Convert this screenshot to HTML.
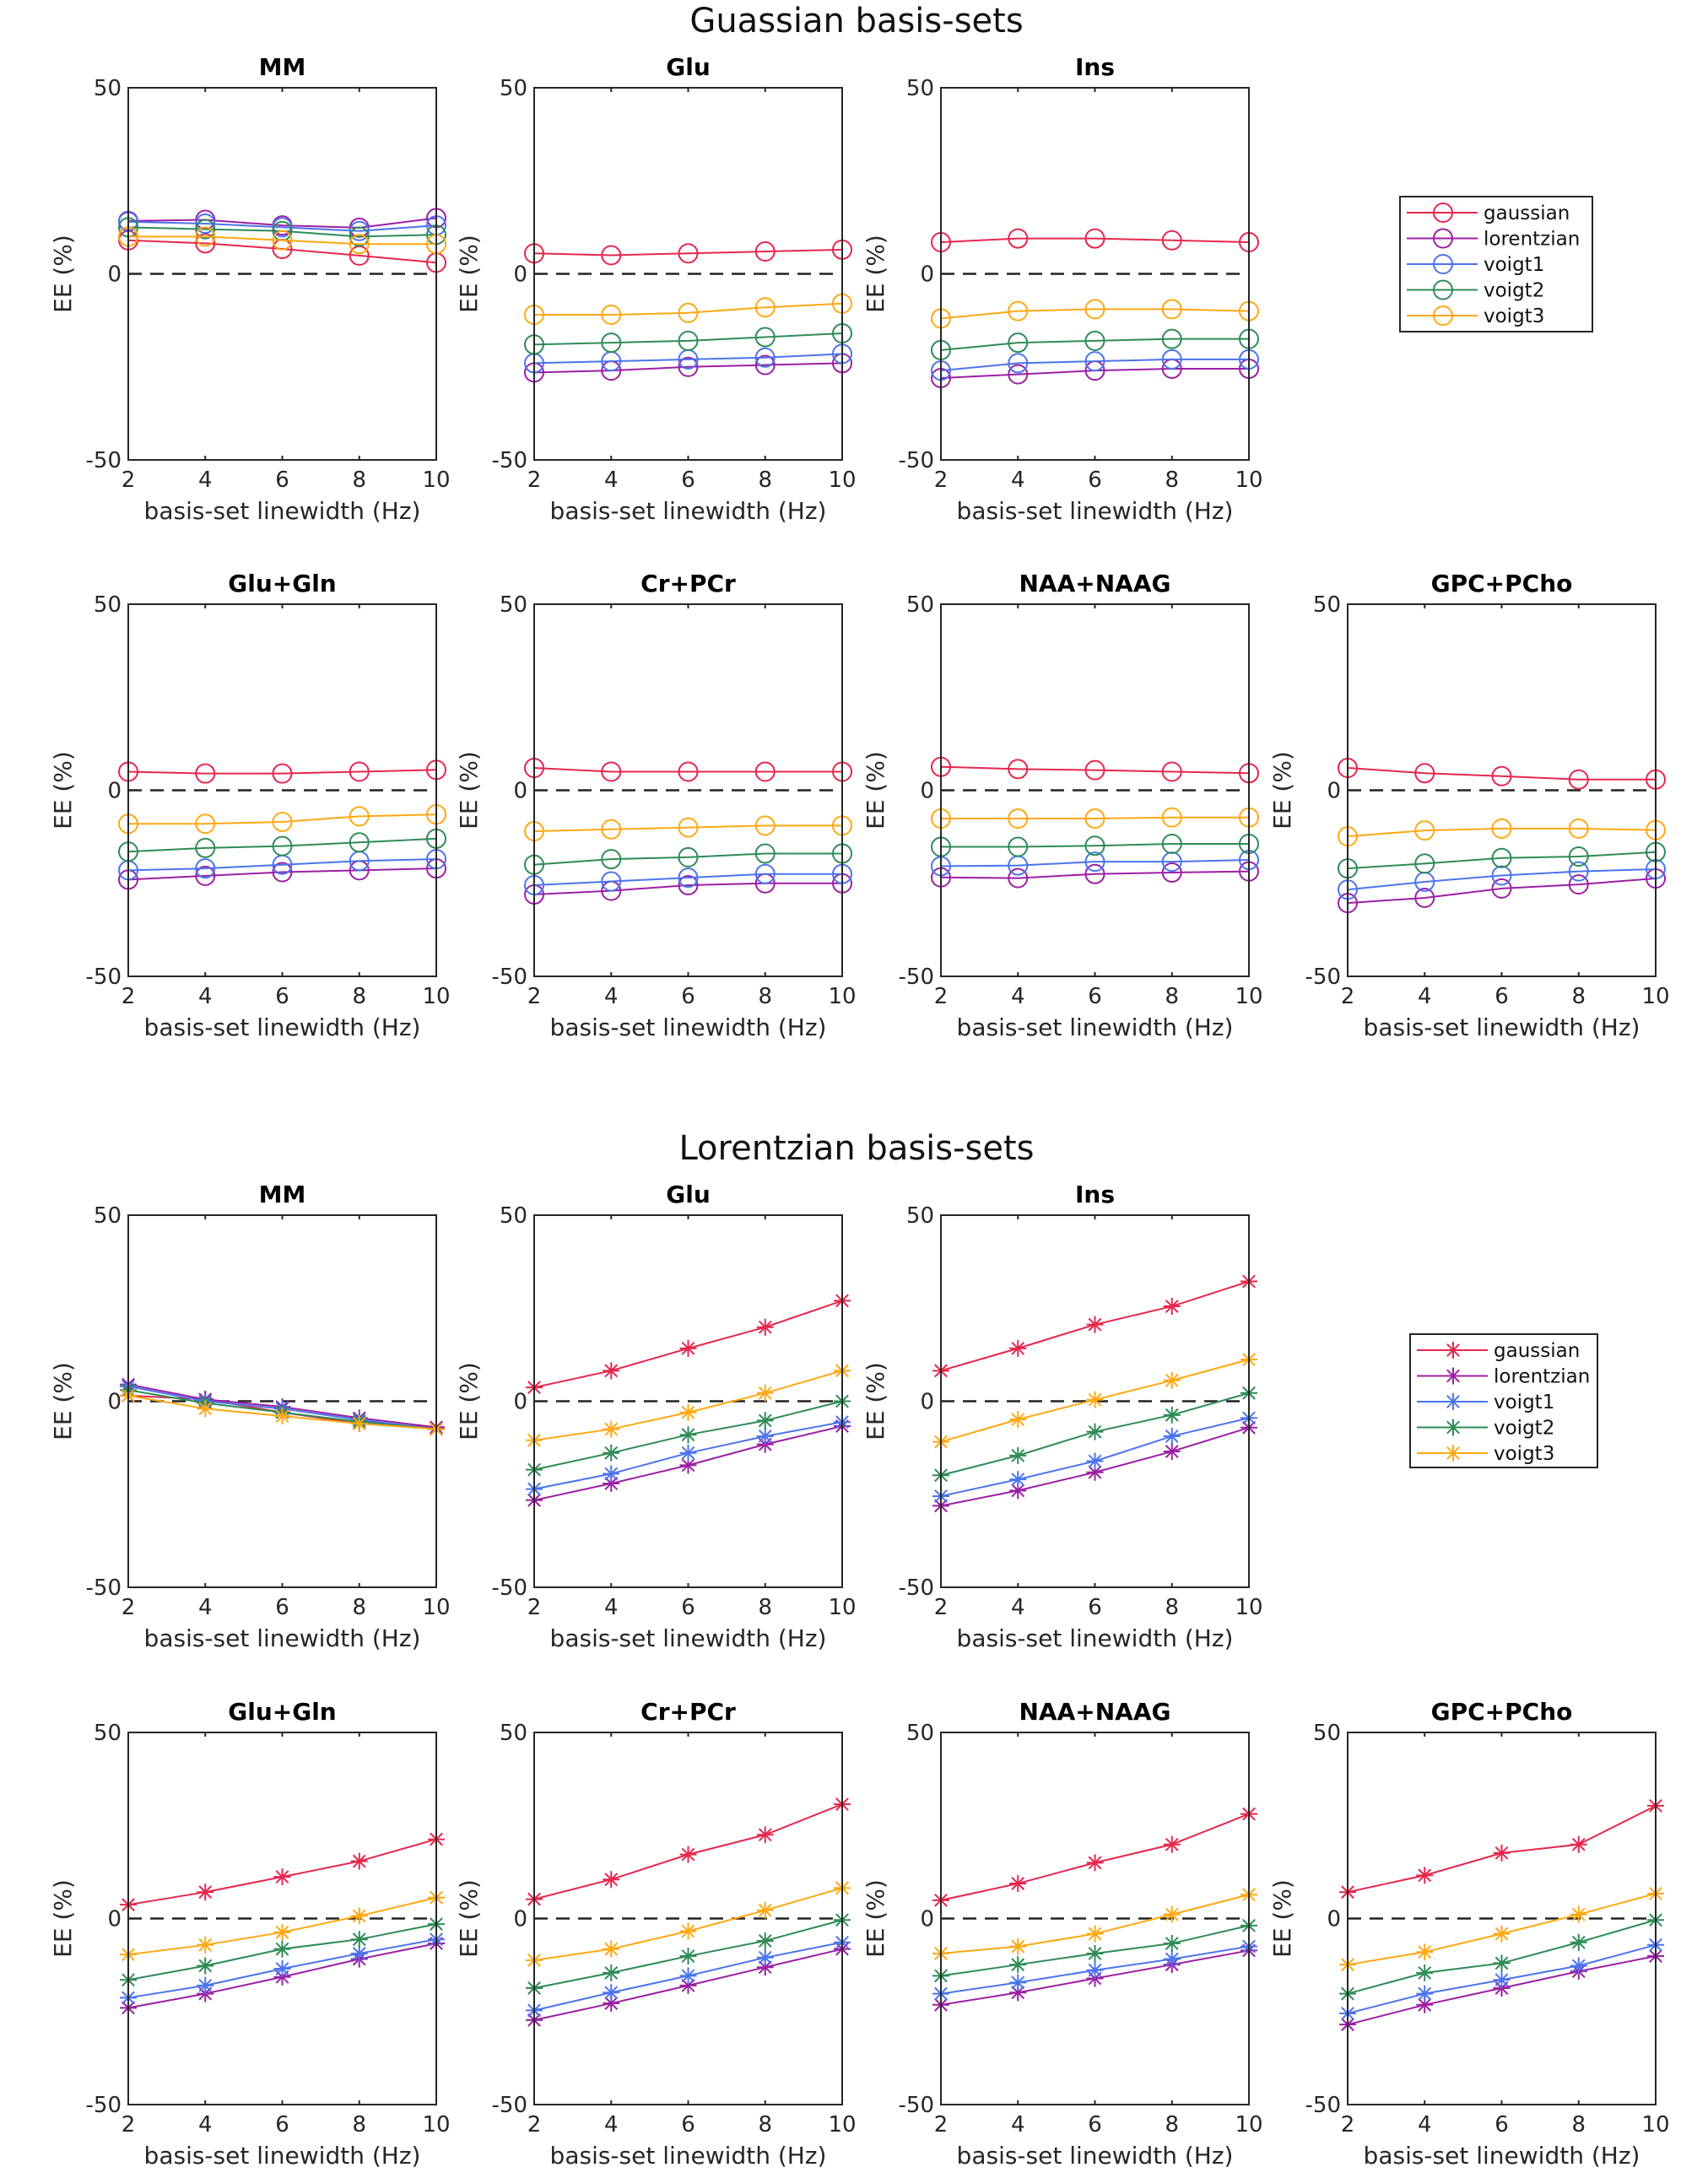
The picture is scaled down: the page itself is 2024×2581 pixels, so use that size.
<!DOCTYPE html>
<html><head><meta charset="utf-8"><style>
html,body{margin:0;padding:0;background:#fff;}
svg{display:block;font-family:"DejaVu Sans","Liberation Sans",sans-serif;}
</style></head><body>
<svg id="fig" width="2024" height="2581" viewBox="0 0 2024 2581" xmlns="http://www.w3.org/2000/svg">
<rect width="2024" height="2581" fill="#fff"/>
<text x="1015" y="38" font-size="40" text-anchor="middle" fill="#111">Guassian basis-sets</text>
<text x="1015" y="1374" font-size="40" text-anchor="middle" fill="#111">Lorentzian basis-sets</text>
</svg>
<script>
const xCats = [2,4,6,8,10];
const yTicks = [-50,0,50];
const seriesNames = ['gaussian','lorentzian','voigt1','voigt2','voigt3'];
const seriesColors = ['#e6264e','#9b1fa3','#4a74ee','#2e8b57','#ffa812'];
const panelTitles = ['MM','Glu','Ins','Glu+Gln','Cr+PCr','NAA+NAAG','GPC+PCho'];
// Gaussian basis-sets: [gaussian, lorentzian, voigt1, voigt2, voigt3]
const gMM = [[9,8.2,6.7,4.9,3],[14.2,14.5,13,12.4,15],[14,13.5,12.5,11.5,13],[12.5,12,11.5,10,10.5],[10,10,9,8,8]];
const gGlu = [[5.5,5,5.5,6,6.5],[-26.5,-26,-25,-24.5,-24],[-24,-23.5,-23,-22.5,-21.5],[-19,-18.5,-18,-17,-16],[-11,-11,-10.5,-9,-8]];
const gIns = [[8.5,9.5,9.5,9,8.5],[-28,-27,-26,-25.5,-25.5],[-26,-24,-23.5,-23,-23],[-20.5,-18.5,-18,-17.5,-17.5],[-12,-10,-9.5,-9.5,-10]];
const gGluGln = [[5,4.5,4.5,5,5.5],[-24,-23,-22,-21.5,-21],[-21.5,-21,-20,-19,-18.5],[-16.5,-15.5,-15,-14,-13],[-9,-9,-8.5,-7,-6.5]];
const gCrPCr = [[6,5,5,5,5],[-28,-27,-25.5,-25,-25],[-25.5,-24.5,-23.5,-22.5,-22.5],[-20,-18.5,-18,-17,-17],[-11,-10.5,-10,-9.5,-9.5]];
const gNAA = [[6.3,5.7,5.4,5,4.6],[-23.4,-23.6,-22.5,-22.1,-21.8],[-20.4,-20.2,-19.2,-19.2,-18.7],[-15.2,-15.2,-14.9,-14.4,-14.4],[-7.6,-7.6,-7.6,-7.3,-7.3]];
const gGPC = [[6,4.6,3.8,2.9,2.9],[-30.3,-28.9,-26.4,-25.3,-23.7],[-26.7,-24.6,-22.9,-21.8,-21.2],[-21,-19.7,-18.2,-17.8,-16.6],[-12.4,-10.8,-10.3,-10.3,-10.7]];
// Lorentzian basis-sets
const lMM = [[1.5,0.5,-3,-6,-7],[4.5,0.5,-1.5,-4.5,-7],[4,0,-2,-5,-7.5],[3,-0.5,-3,-5.5,-7.5],[1.5,-2,-4,-6,-7.5]];
const lGlu = [[3.7,8.2,14.2,19.9,27],[-26.6,-22.1,-17.2,-11.6,-6.7],[-23.6,-19.5,-13.9,-9.4,-5.6],[-18.4,-13.9,-9,-5.2,0],[-10.5,-7.5,-3,2.2,8.2]];
const lIns = [[8.2,14.2,20.6,25.5,32.2],[-28.1,-24,-19.1,-13.5,-7.1],[-25.5,-21,-16.1,-9.4,-4.5],[-19.9,-14.6,-8.2,-3.7,2.2],[-10.9,-4.9,0.4,5.6,11.2]];
const lGluGln = [[3.7,7.1,11.2,15.4,21.3],[-24,-20.2,-15.7,-10.9,-6.7],[-21.3,-18,-13.5,-9.4,-5.6],[-16.5,-12.7,-8.2,-5.6,-1.5],[-9.7,-7.1,-3.7,0.7,5.6]];
const lCrPCr = [[5.2,10.5,17.2,22.5,30.7],[-27.3,-22.8,-18,-13.1,-8.2],[-24.7,-19.9,-15.4,-10.5,-6.4],[-18.7,-14.6,-10.1,-6,-0.4],[-11.2,-8.2,-3.4,2.2,8.2]];
const lNAA = [[4.9,9.4,15,19.9,28.1],[-23.2,-19.9,-16.1,-12.4,-8.6],[-20.2,-17.2,-13.9,-10.9,-7.5],[-15.4,-12.4,-9.4,-6.7,-1.9],[-9.4,-7.5,-4.1,1.1,6.4]];
const lGPC = [[7.1,11.6,17.6,19.9,30.3],[-28.5,-23.2,-18.7,-14.2,-10.1],[-25.5,-20.2,-16.5,-12.7,-7.1],[-20.2,-14.6,-12,-6.4,-0.4],[-12.4,-9,-4.1,1.1,6.7]];

const NS='http://www.w3.org/2000/svg';
const svg=document.getElementById('fig');
function mk(tag,attrs,parent){const e=document.createElementNS(NS,tag);for(const k in attrs)e.setAttribute(k,attrs[k]);(parent||svg).appendChild(e);return e;}
const colX=[152,633,1115,1597], W=365;
const rowY=[104,716,1440,2053], H=441;

function marker(g,type,cx,cy,color){
  if(type==='o'){
    const m=mk('circle',{cx:cx,cy:cy,r:11,fill:'none',stroke:color,'stroke-width':2},g);
    
    
  } else {
    const r=10;
    const m=mk('path',{d:`M${cx-r} ${cy}H${cx+r}M${cx} ${cy-r}V${cy+r}M${cx-r*0.72} ${cy-r*0.72}L${cx+r*0.72} ${cy+r*0.72}M${cx-r*0.72} ${cy+r*0.72}L${cx+r*0.72} ${cy-r*0.72}`,stroke:color,'stroke-width':2,fill:'none'},g);
    
    
  }
}

function panel(col,row,title,data,type){
  const L=colX[col],T=rowY[row],R=L+W,B=T+H;
  const xs=v=>L+(v-2)/8*W;
  const ys=v=>T+(50-v)/100*H;
  const g=mk('g',{});
  
  
  const bg=mk('rect',{x:L,y:T,width:W,height:H,fill:'#fff'},g);
  
  
  const z=mk('line',{x1:L,x2:R,y1:ys(0),y2:ys(0),stroke:'#222','stroke-width':2.5,'stroke-dasharray':'16,10'},g);
  
  
  data.forEach((s,si)=>{
    const pts=s.map((v,i)=>xs(xCats[i])+','+ys(v)).join(' ');
    const pl=mk('polyline',{points:pts,fill:'none',stroke:seriesColors[si],'stroke-width':2},g);
    
    
    s.forEach((v,i)=>marker(g,type,xs(xCats[i]),ys(v),seriesColors[si]));
  });
  const fr=mk('rect',{x:L,y:T,width:W,height:H,fill:'none',stroke:'#262626','stroke-width':2},g);
  
  
  xCats.forEach(v=>{
    mk('line',{x1:xs(v),x2:xs(v),y1:B,y2:B-5,stroke:'#262626','stroke-width':2},g);
    mk('line',{x1:xs(v),x2:xs(v),y1:T,y2:T+5,stroke:'#262626','stroke-width':2},g);
    const t=mk('text',{x:xs(v),y:B+32,'font-size':26,'text-anchor':'middle',fill:'#262626'},g);
    t.textContent=v;
    
    
  });
  yTicks.forEach(v=>{
    const t=mk('text',{x:L-8,y:ys(v)+9,'font-size':26,'text-anchor':'end',fill:'#262626'},g);
    t.textContent=v;
    
    
  });
  const xl=mk('text',{x:(L+R)/2,y:B+70,'font-size':28,'text-anchor':'middle',fill:'#262626'},g);
  xl.textContent='basis-set linewidth (Hz)';
  
  
  const yl=mk('text',{x:0,y:0,'font-size':28,'text-anchor':'middle',fill:'#262626',transform:`translate(${L-68},${ys(0)}) rotate(-90)`},g);
  yl.textContent='EE (%)';
  
  
  const tt=mk('text',{x:(L+R)/2,y:T-15,'font-size':28,'font-weight':'bold','text-anchor':'middle',fill:'#000'},g);
  tt.textContent=title;
  
  
}

function legend(x,y,w,h,type){
  const g=mk('g',{});
  
  
  mk('rect',{x:x,y:y,width:w,height:h,fill:'#fff',stroke:'#262626','stroke-width':2},g);
  seriesNames.forEach((n,i)=>{
    const cy=y+19+i*30.5;
    const e=mk('g',{},g);
    
    
    mk('line',{x1:x+8,x2:x+92,y1:cy,y2:cy,stroke:seriesColors[i],'stroke-width':2},e);
    marker(e,type,x+51,cy,seriesColors[i]);
    const t=mk('text',{x:x+99,y:cy+8,'font-size':23,fill:'#111'},e);
    t.textContent=n;
  });
}

const gData=[gMM,gGlu,gIns,gGluGln,gCrPCr,gNAA,gGPC];
const lData=[lMM,lGlu,lIns,lGluGln,lCrPCr,lNAA,lGPC];
const pos=[[0,0],[1,0],[2,0],[0,1],[1,1],[2,1],[3,1]];
pos.forEach((p,i)=>panel(p[0],p[1],panelTitles[i],gData[i],'o'));
pos.forEach((p,i)=>panel(p[0],p[1]+2,panelTitles[i],lData[i],'*'));
legend(1659,233,228,160,'o');
legend(1671,1581,222,158,'*');
</script>
</body></html>
